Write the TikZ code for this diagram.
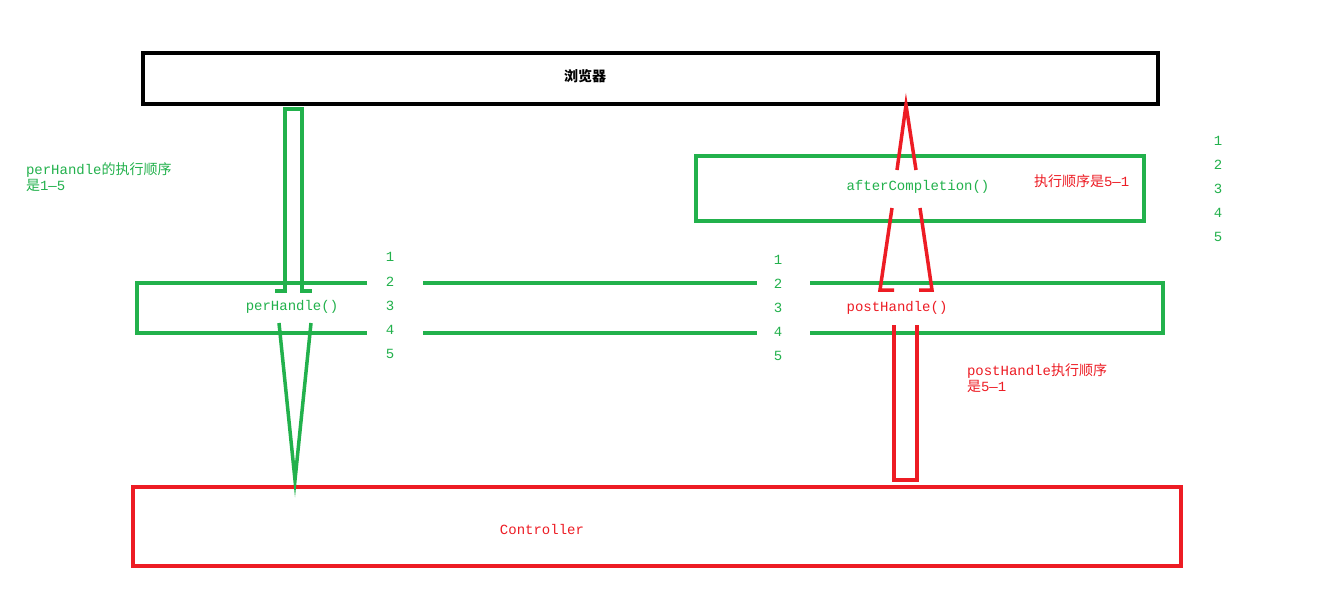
\documentclass[tikz,border=0pt]{standalone}
\usepackage{fontspec}
\setmainfont{Liberation Mono}
\newfontfamily\cjk{Noto Sans CJK SC}
\definecolor{gr}{HTML}{22B14C}
\definecolor{rd}{HTML}{ED1C24}
\begin{document}
\begin{tikzpicture}[x=1pt,y=-1pt,line width=4pt,
  txt/.style={font=\fontsize{14}{16}\selectfont,inner sep=0pt},
  num/.style={txt,text=gr}]
\useasboundingbox (0,0) rectangle (1325,597);
\fill[white] (0,0) rectangle (1325,597);
% boxes
\node[draw=black,minimum width=1015pt,minimum height=51pt,inner sep=0pt] (browser) at (650.5,78.5) {};
\node[txt,font=\cjk\fontsize{14}{16}\selectfont\bfseries] (btxt) at (585,76) {浏览器};
\node[draw=gr,minimum width=448pt,minimum height=65pt,inner sep=0pt] (after) at (920,188.5) {};
\node[txt,text=gr] (atxt) at (918,187) {afterCompletion()};
\node[draw=red!0,minimum width=1048pt,minimum height=79pt,inner sep=0pt,draw=rd] (ctrl) at (657,526.5) {};
\node[txt,text=rd] (ctxt) at (542,529) {Controller};
% handler bar with gaps
\draw[gr] (367,283) -- (137,283) -- (137,333) -- (367,333);
\draw[gr] (423,283) -- (757,283) (423,333) -- (757,333);
\draw[gr] (810,283) -- (1163,283) -- (1163,333) -- (810,333);
\node[txt,text=gr] (pre) at (292,307) {perHandle()};
\node[txt,text=rd] (post) at (897,308) {postHandle()};
% numbers
\foreach \i/\y in {1/257,2/282,3/306,4/330,5/354} \node[num] (a\i) at (390,\y) {\i};
\foreach \i/\y in {1/260,2/284,3/308,4/332,5/356} \node[num] (b\i) at (778,\y) {\i};
\foreach \i/\y in {1/141,2/165,3/189,4/213,5/237} \node[num] (c\i) at (1218,\y) {\i};
% green connectors
\draw[gr,line width=3.5pt] (275,291) -- (285,291) -- (285,109) -- (302,109) -- (302,291) -- (312,291);
\draw[gr,line width=3.5pt] (279,323) -- (295,480) -- (311,323);
% red connectors
\draw[rd,line width=3.5pt] (897,170) -- (906,105) -- (916,170);
\draw[rd,line width=3.5pt] (894,290) -- (880,290) -- (892,208);
\draw[rd,line width=3.5pt] (919,290) -- (932,290) -- (920,208);
\draw[rd,line width=3.5pt] (894,325) -- (894,480) -- (917,480) -- (917,325);
% labels
\node[txt,text=gr,anchor=west,align=left] (l1) at (24,177) {perHandle{\cjk 的执行顺序}\\{\cjk 是}1---5};
\node[txt,text=rd,anchor=west] (l2) at (1032,181) {{\cjk 执行顺序是}5---1};
\node[txt,text=rd,anchor=west,align=left] (l3) at (965,378) {postHandle{\cjk 执行顺序}\\{\cjk 是}5---1};
\end{tikzpicture}
\end{document}
